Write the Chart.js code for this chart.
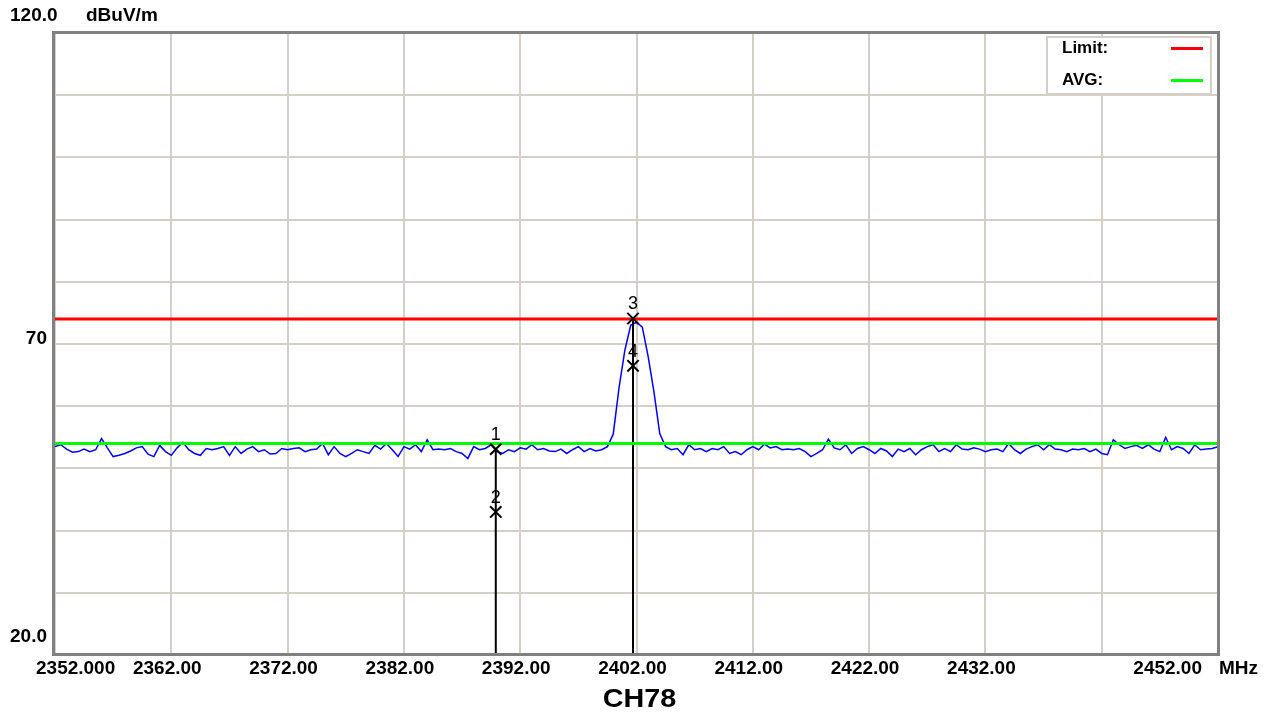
<!DOCTYPE html>
<html>
<head>
<meta charset="utf-8">
<script src="https://cdn.jsdelivr.net/npm/chart.js@4.4.1/dist/chart.umd.min.js"></script>
<style>
  body { margin: 0; background: #fff; }
  canvas { display: block; }
</style>
</head>
<body>
<canvas id="spectrum" width="1270" height="719"></canvas>
<script>
// sweep 2352 - 2452 MHz, one reading every 0.5 MHz
var traceStart = 2352;
var traceStep = 0.5;
var traceLevel = [
  53.5, 53.8, 53.1, 52.6, 52.7, 53.1, 52.7, 53.0, 54.8, 53.3, 51.9,
  52.1, 52.4, 52.8, 53.3, 53.5, 52.3, 51.9, 53.7, 52.7, 52.1,
  53.3, 54.2, 53.0, 52.4, 52.1, 53.2, 53.0, 53.2, 53.5, 52.1,
  53.5, 52.4, 53.1, 53.5, 52.7, 53.0, 52.3, 52.4, 53.2, 53.0,
  53.2, 53.3, 52.7, 53.0, 53.1, 54.0, 52.2, 53.5, 52.4, 51.9,
  52.4, 53.0, 52.7, 52.4, 53.7, 53.1, 54.0, 53.0, 51.9, 53.5,
  53.1, 53.8, 52.7, 54.6, 53.0, 53.1, 53.0, 53.2, 52.7, 52.4,
  51.6, 53.5, 53.0, 53.2, 53.8, 52.7, 52.4, 53.0, 52.7, 53.3,
  53.1, 53.8, 53.0, 53.2, 52.8, 52.7, 53.1, 52.4, 53.0, 53.5,
  52.7, 53.2, 52.8, 53.0, 53.5,
  55.5, 63.0, 69.0, 73.0, 73.5, 72.7, 68.0, 62.3, 55.6,
  53.5, 53.0, 53.2, 52.2, 53.8, 53.0,
  53.2, 52.7, 53.2, 53.0, 53.5, 52.4, 52.7, 52.2, 53.0, 53.5,
  53.0, 53.9, 53.3, 53.5, 53.0, 53.1, 53.0, 53.2, 52.7, 51.9,
  52.4, 53.0, 54.7, 53.3, 53.0, 53.8, 52.4, 53.2, 53.5, 53.0,
  52.4, 53.2, 52.8, 51.9, 53.1, 52.7, 53.2, 52.2, 53.0, 53.5,
  53.8, 52.7, 53.2, 52.7, 53.8, 53.1, 53.0, 53.3, 53.1, 52.7,
  53.0, 53.1, 52.7, 54.0, 53.0, 52.4, 53.1, 53.5, 53.8, 53.0,
  53.8, 53.1, 53.0, 52.7, 53.1, 53.0, 53.2, 52.7, 53.1, 52.4,
  52.2, 54.6, 53.8, 53.2, 53.5, 53.7, 53.2, 53.8, 53.1, 52.7,
  55.0, 53.0, 53.5, 53.2, 52.4, 53.8, 53.0, 53.1, 53.2, 53.5
];

var spanFreq = [2352, 2452];
var limitLine = [74, 74];
var avgLine = [54, 54];

var markerFreq = [2389.9, 2389.9, 2401.7, 2401.7];
var markerLevel = [53.1, 43.0, 74.1, 66.5];
var markerLabel = ['1', '2', '3', '4'];
var dropMarkers = [0, 2];   // markers that have a line down to the floor

var xTickValues = [2352, 2362, 2372, 2382, 2392, 2402, 2412, 2422, 2432, 2442, 2452];
var xTickLabels = ['2352.000', '2362.00', '2372.00', '2382.00', '2392.00', '2402.00',
                   '2412.00', '2422.00', '2432.00', '', '2452.00'];
var yTickValues = [120, 70, 20];
var yTickLabels = ['120.0', '70', '20.0'];

var legendNames = ['Limit:', 'AVG:'];
var legendColors = ['#ff0000', '#00ff00'];

var FONT = '"Liberation Sans", Arial, sans-serif';

var trace = [];
for (var i = 0; i < traceLevel.length; i++) {
  trace.push({x: traceStart + i * traceStep, y: traceLevel[i]});
}

function pairs(xs, ys) {
  return xs.map(function(x, i) { return {x: x, y: ys[i]}; });
}

var datasets = [];
datasets.push({
  label: 'markers',
  data: pairs(markerFreq, markerLevel),
  showLine: false,
  pointStyle: 'crossRot',
  pointRadius: 8,
  pointBorderColor: '#000',
  pointBorderWidth: 2,
  borderColor: '#000'
});
datasets.push({label: 'Limit', data: pairs(spanFreq, limitLine), borderColor: legendColors[0], borderWidth: 3, pointRadius: 0});
datasets.push({label: 'AVG', data: pairs(spanFreq, avgLine), borderColor: legendColors[1], borderWidth: 3, pointRadius: 0});
dropMarkers.forEach(function(m) {
  datasets.push({
    label: 'drop' + m,
    data: [{x: markerFreq[m], y: markerLevel[m]}, {x: markerFreq[m], y: 20}],
    borderColor: '#000',
    borderWidth: 2,
    pointRadius: 0
  });
});
datasets.push({label: 'trace', data: trace, borderColor: '#0000ff', borderWidth: 1.5, pointRadius: 0, tension: 0});

var chartDecor = {
  id: 'chartDecor',
  beforeDraw: function(chart) {
    var ctx = chart.ctx;
    ctx.save();
    ctx.fillStyle = '#fff';
    ctx.fillRect(0, 0, chart.width, chart.height);
    ctx.restore();
  },
  afterDatasetsDraw: function(chart) {
    var ctx = chart.ctx;
    var a = chart.chartArea;
    var xs = chart.scales.x, ys = chart.scales.y;

    // marker numbers
    var meta = chart.getDatasetMeta(0);
    ctx.save();
    ctx.fillStyle = '#000';
    ctx.font = '18px ' + FONT;
    ctx.textAlign = 'center';
    ctx.textBaseline = 'middle';
    meta.data.forEach(function(pt, i) {
      ctx.fillText(markerLabel[i], pt.x, pt.y - 14);
    });
    ctx.restore();

    // frame
    ctx.save();
    ctx.strokeStyle = '#808080';
    ctx.lineWidth = 3;
    ctx.strokeRect(a.left - 1.5, a.top - 0.5, a.right - a.left + 2, a.bottom - a.top);
    ctx.restore();

    // legend box
    var bx = a.right - 171, by = a.top + 4, bw = 164, bh = 57;
    ctx.save();
    ctx.fillStyle = '#fff';
    ctx.fillRect(bx, by, bw, bh);
    ctx.strokeStyle = '#d4d0c8';
    ctx.lineWidth = 2;
    ctx.strokeRect(bx, by, bw, bh);
    ctx.font = 'bold 17px ' + FONT;
    ctx.textBaseline = 'middle';
    ctx.fillStyle = '#000';
    legendNames.forEach(function(name, i) {
      var ly = by + 11.5 + i * 32;
      ctx.fillText(name, bx + 15, ly);
      ctx.strokeStyle = legendColors[i];
      ctx.lineWidth = 3;
      ctx.beginPath();
      ctx.moveTo(bx + 124, ly);
      ctx.lineTo(bx + 156, ly);
      ctx.stroke();
    });
    ctx.restore();

    // axis texts
    ctx.save();
    ctx.fillStyle = '#000';
    ctx.font = 'bold 19px ' + FONT;
    ctx.textBaseline = 'middle';
    yTickValues.forEach(function(v, i) {
      var py = ys.getPixelForValue(v);
      if (i === 0) {
        ctx.textAlign = 'left';
        ctx.fillText(yTickLabels[i], 10, py - 17);
      } else if (i === yTickValues.length - 1) {
        ctx.textAlign = 'right';
        ctx.fillText(yTickLabels[i], a.left - 8, py - 18);
      } else {
        ctx.textAlign = 'right';
        ctx.fillText(yTickLabels[i], a.left - 8, py - 5);
      }
    });
    ctx.textAlign = 'left';
    ctx.fillText('dBuV/m', 86, ys.getPixelForValue(120) - 17);

    var ty = a.bottom + 14;
    xTickValues.forEach(function(v, i) {
      var px = xs.getPixelForValue(v);
      var t = xTickLabels[i];
      if (!t) return;
      if (i === 0) {
        ctx.textAlign = 'left';
        ctx.fillText(t, px - 19, ty);
      } else if (i === xTickValues.length - 1) {
        ctx.textAlign = 'right';
        ctx.fillText(t, px - 16, ty);
      } else {
        ctx.textAlign = 'center';
        ctx.fillText(t, px - 4, ty);
      }
    });
    ctx.textAlign = 'left';
    ctx.fillText('MHz', a.right + 1, ty);

    // channel caption
    ctx.translate((a.left + a.right) / 2 + 3, a.bottom + 45);
    ctx.scale(1.15, 1);
    ctx.font = 'bold 25px ' + FONT;
    ctx.textAlign = 'center';
    ctx.fillText('CH78', 0, 0);
    ctx.restore();
  }
};

var ctx = document.getElementById('spectrum').getContext('2d');
var chart = new Chart(ctx, {
  type: 'line',
  data: {datasets: datasets},
  options: {
    responsive: false,
    animation: false,
    layout: {padding: {left: 55, right: 52, top: 33, bottom: 64}},
    plugins: {legend: {display: false}, tooltip: {enabled: false}, title: {display: false}},
    scales: {
      x: {
        type: 'linear', min: 2352, max: 2452,
        ticks: {display: false, stepSize: 10},
        grid: {color: '#d4d0c8', lineWidth: 2, drawTicks: false},
        border: {display: false}
      },
      y: {
        min: 20, max: 120,
        ticks: {display: false, stepSize: 10},
        grid: {color: '#d4d0c8', lineWidth: 2, drawTicks: false},
        border: {display: false}
      }
    }
  },
  plugins: [chartDecor]
});
</script>
</body>
</html>
